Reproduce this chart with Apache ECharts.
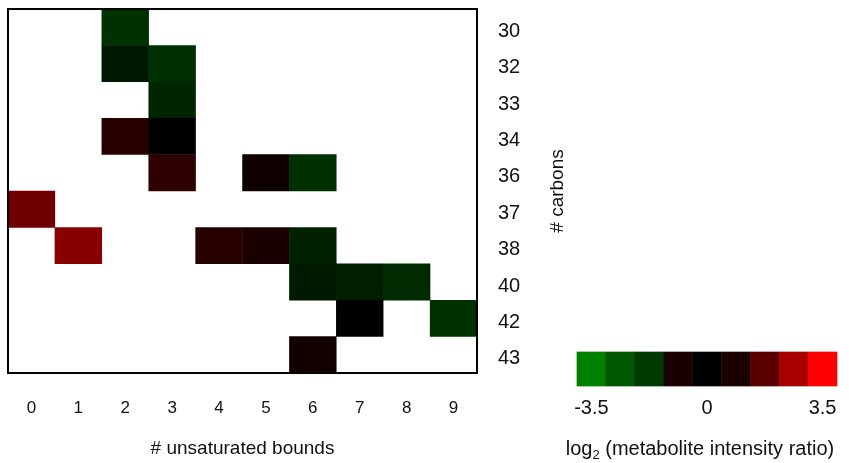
<!DOCTYPE html>
<html>
<head>
<meta charset="utf-8">
<script src="https://cdn.jsdelivr.net/npm/echarts@6/dist/echarts.min.js"></script>
<style>
html,body{margin:0;padding:0;background:#fff;}
#chart{width:849px;height:463px;}
</style>
</head>
<body>
<div id="chart"></div>
<script>
// x: number of unsaturated bonds, y: number of carbons
const unsaturated = ['0','1','2','3','4','5','6','7','8','9'];
const carbons = ['30','32','33','34','36','37','38','40','42','43'];
// log2 ratio per carbons row (null = no data)
const row30 = [null, null, -1.5, null, null, null, null, null, null, null];
const row32 = [null, null, -0.72, -1.45, null, null, null, null, null, null];
const row33 = [null, null, null, -1.15, null, null, null, null, null, null];
const row34 = [null, null, 0.78, 0.0, null, null, null, null, null, null];
const row36 = [null, null, null, 0.9, null, 0.3, -1.45, null, null, null];
const row37 = [2.0, null, null, null, null, null, null, null, null, null];
const row38 = [null, 2.27, null, null, 0.78, 0.5, -1.03, null, null, null];
const row40 = [null, null, null, null, null, null, -0.78, -0.9, -1.27, null];
const row42 = [null, null, null, null, null, null, null, 0.0, null, -1.5];
const row43 = [null, null, null, null, null, null, 0.35, null, null, null];
const rows = [row30, row32, row33, row34, row36, row37, row38, row40, row42, row43];
// colour key steps
const keySteps = [-3.5, -2.625, -1.75, -0.875, 0, 0.875, 1.75, 2.625, 3.5];
const keyColors = ['#008000','#005800','#003a00','#1a0000','#000000','#1a0000','#5a0000','#a80000','#ff0000'];
const cellColors = ['#008000','#005800','#003a00','#001d00','#000000','#2d0000','#5a0000','#a80000','#ff0000'];

const heatData = [];
rows.forEach((r, yi) => r.forEach((v, xi) => { if (v !== null) heatData.push([xi, yi, v]); }));
const keyData = keySteps.map((v, i) => [i, 0, v]);

const FONT = 'Liberation Sans, Arial, sans-serif';
const TXT = '#111';

const chart = echarts.init(document.getElementById('chart'), null, {renderer: 'canvas'});
chart.setOption({
  animation: false,
  backgroundColor: '#fff',
  textStyle: {fontFamily: FONT},
  grid: [
    {left: 8, top: 9, width: 469, height: 364, show: true, borderColor: '#000', borderWidth: 2, backgroundColor: 'transparent', z: 5},
    {left: 577, top: 352, width: 260, height: 34, show: true, borderColor: '#ccc', borderWidth: 1}
  ],
  xAxis: [
    {
      type: 'category', gridIndex: 0, data: unsaturated,
      axisLine: {show: false}, axisTick: {show: false}, splitLine: {show: false},
      axisLabel: {color: TXT, fontSize: 17, fontFamily: FONT, margin: 27},
      name: '# unsaturated bounds', nameLocation: 'middle', nameGap: 66,
      nameTextStyle: {color: TXT, fontSize: 19, fontFamily: FONT}
    },
    {
      type: 'category', gridIndex: 1, data: keySteps.map(String),
      axisLine: {show: false}, axisTick: {show: false}, splitLine: {show: false},
      axisLabel: {color: TXT, fontSize: 20, fontFamily: FONT, margin: 12, interval: (i) => i % 4 === 0},
      name: '{a|log}{s|2}{a| (metabolite intensity ratio)}', nameLocation: 'middle', nameGap: 51,
      nameTextStyle: {color: TXT, fontSize: 20, fontFamily: FONT, padding: [0, 14, 0, 0], rich: {
        a: {fontSize: 20, fontFamily: FONT, color: TXT},
        s: {fontSize: 13, fontFamily: FONT, color: TXT, padding: [12, 0, 0, 0]}
      }}
    }
  ],
  yAxis: [
    {
      type: 'category', gridIndex: 0, data: carbons, inverse: true, position: 'right',
      axisLine: {show: false}, axisTick: {show: false}, splitLine: {show: false},
      axisLabel: {
        color: TXT, fontSize: 20, fontFamily: FONT, margin: 21,
        formatter: (v) => '{a|' + v + '}',
        rich: {a: {fontSize: 20, fontFamily: FONT, color: TXT, padding: [8, 0, 0, 0]}}
      },
      name: '# carbons', nameLocation: 'middle', nameGap: 71, nameRotate: 90,
      nameTextStyle: {color: TXT, fontSize: 19, fontFamily: FONT}
    },
    {
      type: 'category', gridIndex: 1, data: ['k'],
      axisLine: {show: false}, axisTick: {show: false}, axisLabel: {show: false}, splitLine: {show: false}
    }
  ],
  visualMap: [
    {type: 'continuous', show: false, seriesIndex: 0, dimension: 2, min: -3.5, max: 3.5, inRange: {color: cellColors}},
    {type: 'continuous', show: false, seriesIndex: 1, dimension: 2, min: -3.5, max: 3.5, inRange: {color: keyColors}}
  ],
  series: [
    {type: 'heatmap', xAxisIndex: 0, yAxisIndex: 0, data: heatData, itemStyle: {borderWidth: 0}, emphasis: {disabled: true}},
    {type: 'heatmap', xAxisIndex: 1, yAxisIndex: 1, data: keyData, itemStyle: {borderWidth: 0}, emphasis: {disabled: true}}
  ]
});
</script>
</body>
</html>
